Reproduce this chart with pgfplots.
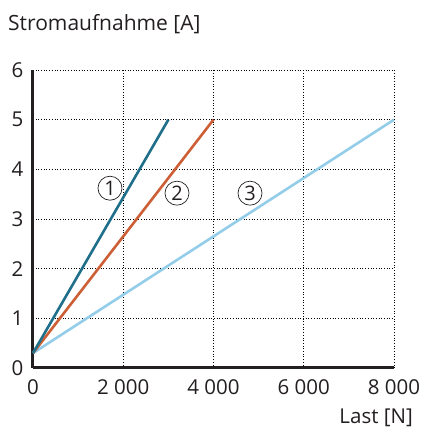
\documentclass[border=0pt]{standalone}
\usepackage{pgfplots}
\pgfplotsset{compat=1.18}
\usepackage{fontspec}
\setmainfont{Open Sans}
\definecolor{cA}{HTML}{1F6F8B}
\definecolor{cB}{HTML}{CC5F35}
\definecolor{cC}{HTML}{93CDE9}
\definecolor{ink}{HTML}{231F20}
\begin{document}
\begin{tikzpicture}[font=\fontsize{20.5}{24}\selectfont]
\begin{axis}[
  scale only axis, width=361pt, height=298pt,
  xmin=0, xmax=8000, ymin=0, ymax=6,
  axis x line=bottom, axis y line=left,
  axis line style={line width=3pt, ink, -},
  xtick={0,2000,4000,6000,8000},
  xticklabels={0,2~000,4~000,6~000,8~000},
  ytick={0,1,2,3,4,5,6},
  yticklabels={0,1,2,3,4,5,6},
  major tick length=0pt,
  grid=major,
  major grid style={black, line width=0.7pt, dash pattern=on 0.7pt off 2pt},
  xticklabel style={yshift=-8pt, text=ink},
  yticklabel style={xshift=-6pt, text=ink},
  clip=false,
]
\addplot[cC, line width=2.6pt] coordinates {(0,0.3) (8000,5)};
\addplot[cB, line width=2.6pt] coordinates {(0,0.3) (4000,5)};
\addplot[cA, line width=2.6pt] coordinates {(0,0.3) (3000,5)};
\node[circle, draw=ink, line width=0.7pt, minimum size=24pt, inner sep=0pt, text=ink, font=\fontsize{20}{24}\selectfont] at (axis cs:1706,3.62) {1};
\node[circle, draw=ink, line width=0.7pt, minimum size=24pt, inner sep=0pt, text=ink, font=\fontsize{20}{24}\selectfont] at (axis cs:3191,3.52) {2};
\node[circle, draw=ink, line width=0.7pt, minimum size=24pt, inner sep=0pt, text=ink, font=\fontsize{20}{24}\selectfont] at (axis cs:4809,3.52) {3};
\end{axis}
\node[anchor=base west, inner sep=0pt, text=ink, font=\fontsize{21}{25}\selectfont] at (-25pt,337pt) {Stromaufnahme [A]};
\node[anchor=base east, inner sep=0pt, text=ink] at (380pt,-56pt) {Last [N]};
\pgfresetboundingbox
\path (-33pt,-62pt) rectangle (391pt,368pt);
\end{tikzpicture}
\end{document}
